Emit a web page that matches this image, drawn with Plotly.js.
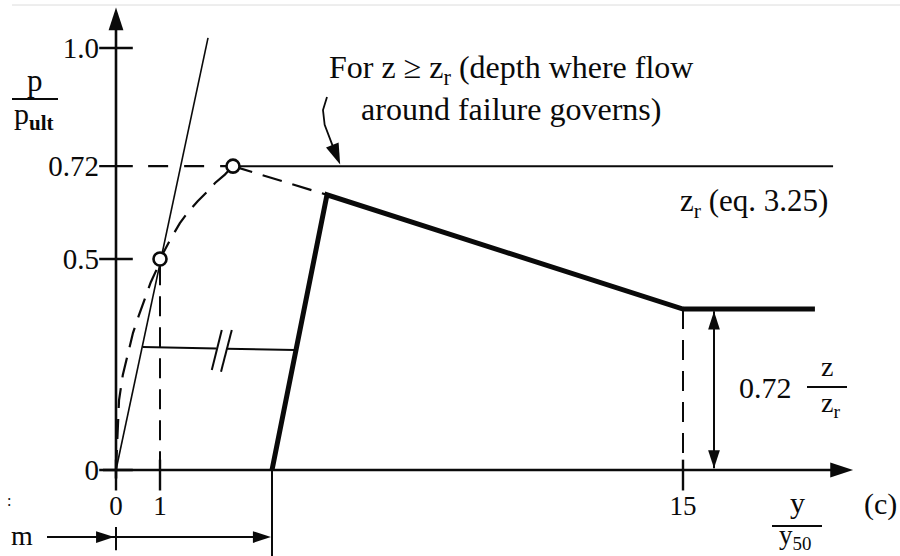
<!DOCTYPE html>
<html>
<head>
<meta charset="utf-8">
<script src="https://cdn.plot.ly/plotly-3.0.1.min.js"></script>
<style>
  html, body { margin: 0; padding: 0; background: #fff; }
  #chart { width: 900px; height: 556px; }
</style>
</head>
<body>
<div id="chart"></div>
<script>
// p/pult versus y/y50 for cyclic loading of soft clay (schematic)

// axis ticks
const xTickVals = [0, 1.164, 15];
const xTickText = ['0', '1', '15'];
const yTickVals = [0, 0.5, 0.72, 1.0];
const yTickText = ['0', '0.5', '0.72', '1.0'];

// backbone curve, origin to peak (dashed)
const backboneX = [0, 0.03, 0.08, 0.18, 0.30, 0.45, 0.60, 0.77, 0.92, 1.08, 1.164, 1.43, 1.69, 1.905, 2.16, 2.407, 2.62, 2.88, 3.095];
const backboneY = [0, 0.075, 0.165, 0.225, 0.27, 0.325, 0.365, 0.41, 0.445, 0.476, 0.5, 0.545, 0.585, 0.611, 0.637, 0.659, 0.68, 0.70, 0.72];

// initial tangent through the origin
const tangentX = [0, 2.434];
const tangentY = [0, 1.024];

// open circles on the backbone
const keyX = [1.164, 3.095];
const keyY = [0.5, 0.72];

// post-peak descent, dashed part
const descentX = [3.095, 5.582];
const descentY = [0.72, 0.652];

// heavy curve for z < zr
const heavyX = [4.127, 5.582, 15, 18.49];
const heavyY = [0, 0.652, 0.3815, 0.3815];

// horizontal link with a break
const linkAX = [0.714, 2.66];
const linkAY = [0.2915, 0.288];
const linkBX = [2.92, 4.735];
const linkBY = [0.2875, 0.2844];
const breakX = [2.798, 2.534, null, 3.063, 2.778];
const breakY = [0.332, 0.237, null, 0.332, 0.233];

// p/pult = 0.72 level (z >= zr)
const levelDashX = [0.85, 2.95];
const levelSolidX = [3.25, 18.97];
const levelY = 0.72;

// drop lines to the axis
const dropOneX = [1.164, 1.164];
const dropOneY = [0.485, -0.028];
const dropFifteenX = [15, 15];
const dropFifteenY = [0.3815, -0.043];

// 0.72 z/zr dimension
const dimX = [15.82, 15.82];
const dimY = [0.376, 0.004];

// callout leader
const calloutX = [5.582, 5.476, 5.52, 5.65, 5.80];
const calloutY = [0.884, 0.853, 0.818, 0.785, 0.752];

const INK = '#0a0a0a';
const SERIF = 'Liberation Serif, Times New Roman, serif';

// pixel helpers for text placement on the paper
const W = 900, H = 556;
const fx = p => p / W;
const fy = p => 1 - p / H;

function line(x, y, width, dash) {
  return {
    type: 'scatter', mode: 'lines', x: x, y: y,
    line: { color: INK, width: width, dash: dash || 'solid' },
    hoverinfo: 'skip', showlegend: false
  };
}

// arrowheads: tip at (x, y), angle clockwise from up
function heads(x, y, angle, size) {
  return {
    type: 'scatter', mode: 'markers', x: x, y: y,
    marker: { symbol: 'arrow', angle: angle, size: size, color: INK, line: { width: 0 } },
    hoverinfo: 'skip', showlegend: false, cliponaxis: false
  };
}

const traces = [
  // axes
  line([0, 0], [-0.02, 1.06], 2.6),
  line([-0.344, 19.2], [0, 0], 2.6),
  heads([0], [1.096], [0], 24),
  heads([19.5], [0], [90], 24),

  line(tangentX, tangentY, 1.6),
  line(backboneX, backboneY, 2.2, '20px,11px'),
  line(descentX, descentY, 2.2, '20px,11px'),
  line(levelDashX, [levelY, levelY], 2.2, '20px,16px'),
  line(levelSolidX, [levelY, levelY], 2.0),
  line(heavyX, heavyY, 5),
  line(linkAX, linkAY, 2),
  line(linkBX, linkBY, 2),
  line(breakX, breakY, 2),
  line(dropOneX, dropOneY, 2, '20px,11px'),
  line(dropFifteenX, dropFifteenY, 2, '20px,11px'),

  // dimension arrow for 0.72 z/zr
  line(dimX, dimY, 2),
  heads([dimX[0], dimX[1]], [dimY[0], dimY[1]], [0, 180], 19),

  // callout leader
  line(calloutX, calloutY, 1.8),
  heads([5.93], [0.724], [158], 22),

  // dimension line for m
  line([4.127, 4.127], [0, -0.21], 2),
  line([0, 0], [-0.135, -0.19], 2),
  line([-1.825, 4.0], [-0.1588, -0.1588], 2),
  heads([-0.05, 4.10], [-0.1588, -0.1588], [90, 90], 19),

  // crossing tick marks
  {
    type: 'scatter', mode: 'markers',
    x: yTickVals.map(() => 0), y: yTickVals,
    marker: { symbol: 'line-ew', size: 24, line: { color: INK, width: 2.4 } },
    hoverinfo: 'skip', showlegend: false
  },
  {
    type: 'scatter', mode: 'markers',
    x: xTickVals, y: xTickVals.map(() => -0.012),
    marker: { symbol: 'line-ns', size: 22, line: { color: INK, width: 2.4 } },
    hoverinfo: 'skip', showlegend: false
  },
  // open circles
  {
    type: 'scatter', mode: 'markers', x: keyX, y: keyY,
    marker: { symbol: 'circle', size: 13, color: '#fff', line: { color: INK, width: 2.6 } },
    hoverinfo: 'skip', showlegend: false, cliponaxis: false
  }
];

function label(text, xp, yp, size, opts) {
  return Object.assign({
    text: text, x: fx(xp), y: fy(yp), xref: 'paper', yref: 'paper',
    xanchor: 'center', yanchor: 'middle', showarrow: false,
    font: { family: SERIF, size: size, color: INK }
  }, opts || {});
}

const annotations = [
  label('For z ≥ z<sub>r</sub> (depth where flow<br>around failure governs)', 511, 88, 32),
  label('z<sub>r</sub> (eq. 3.25)', 754, 203, 31),
  label('0.72', 765, 387, 30),
  label('z', 827, 366, 28),
  label('z<sub>r</sub>', 830, 404, 28),
  label('p', 35, 80, 31),
  label('p<sub><b>ult</b></sub>', 34, 116, 30),
  label('y', 797, 502, 30),
  label('y<sub>50</sub>', 795, 537, 27),
  label('(c)', 880, 504, 30),
  label('m', 22, 535, 28),
  label(':', 9, 500, 16)
];

const shapes = [
  // top rule
  { type: 'line', xref: 'paper', yref: 'paper', x0: fx(12), x1: 1, y0: fy(5), y1: fy(5), line: { color: '#dcdcdc', width: 1 } },
  // fraction bars
  { type: 'line', xref: 'paper', yref: 'paper', x0: fx(807), x1: fx(847), y0: fy(387), y1: fy(387), line: { color: INK, width: 1.8 } },
  { type: 'line', xref: 'paper', yref: 'paper', x0: fx(12), x1: fx(58), y0: fy(99), y1: fy(99), line: { color: INK, width: 1.8 } },
  { type: 'line', xref: 'paper', yref: 'paper', x0: fx(772), x1: fx(822), y0: fy(526), y1: fy(526), line: { color: INK, width: 1.8 } }
];

const layout = {
  width: W, height: H,
  margin: { l: 0, r: 0, t: 0, b: 0 },
  paper_bgcolor: '#fff', plot_bgcolor: '#fff',
  showlegend: false,
  xaxis: {
    range: [-116 / 37.8, (W - 116) / 37.8],
    anchor: 'free', position: 86 / H,
    showgrid: false, zeroline: false, showline: false,
    tickmode: 'array', tickvals: xTickVals, ticktext: xTickText,
    ticks: '', ticklabelstandoff: 17,
    tickfont: { family: SERIF, size: 27, color: INK },
    fixedrange: true
  },
  yaxis: {
    range: [(470 - H) / 422, 470 / 422],
    anchor: 'free', position: 116 / W,
    showgrid: false, zeroline: false, showline: false,
    tickmode: 'array', tickvals: yTickVals, ticktext: yTickText,
    ticks: '', ticklabelstandoff: 17,
    tickfont: { family: SERIF, size: 29, color: INK },
    fixedrange: true
  },
  annotations: annotations,
  shapes: shapes
};

Plotly.newPlot('chart', traces, layout, { displayModeBar: false, staticPlot: true });
</script>
</body>
</html>
